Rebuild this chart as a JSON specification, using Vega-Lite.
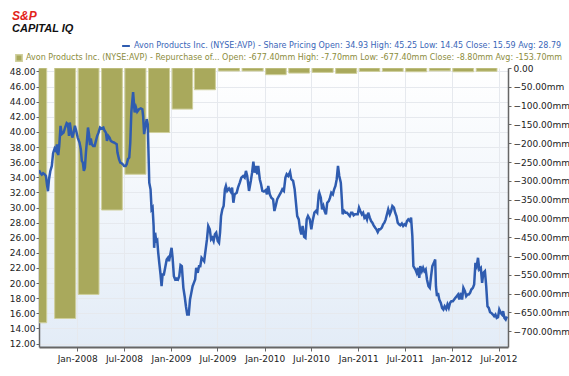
{
  "$schema": "https://vega.github.io/schema/vega-lite/v6.json",
  "width": 469,
  "height": 279,
  "autosize": "none",
  "padding": {"left": 39, "top": 68, "right": 61, "bottom": 29},
  "background": "#ffffff",
  "title": {
    "text": "S&P",
    "subtitle": "CAPITAL IQ",
    "anchor": "start",
    "frame": "group",
    "dx": -27,
    "offset": 6,
    "font": "Liberation Sans",
    "fontSize": 12,
    "fontStyle": "italic",
    "fontWeight": "bold",
    "color": "#e2231a",
    "subtitleFont": "Liberation Sans",
    "subtitleFontSize": 11,
    "subtitleFontStyle": "italic",
    "subtitleFontWeight": "bold",
    "subtitleColor": "#111111",
    "subtitlePadding": 0
  },
  "datasets": {
    "price": [
      {"date":"2007-08-05","price":34.93},{"date":"2007-08-11","price":34.53},{"date":"2007-08-16","price":34.35},{"date":"2007-08-21","price":34.53},{"date":"2007-08-28","price":34.35},{"date":"2007-09-01","price":34.17},{"date":"2007-09-05","price":33.07},{"date":"2007-09-09","price":32.15},{"date":"2007-09-13","price":33.74},{"date":"2007-09-18","price":34.8},{"date":"2007-09-24","price":35.5},{"date":"2007-09-29","price":37.18},{"date":"2007-10-05","price":37.8},{"date":"2007-10-10","price":37.53},{"date":"2007-10-14","price":38.33},{"date":"2007-10-19","price":36.92},{"date":"2007-10-23","price":38.15},{"date":"2007-10-28","price":40.8},{"date":"2007-11-02","price":39.7},{"date":"2007-11-09","price":39.9},{"date":"2007-11-15","price":40.58},{"date":"2007-11-21","price":41.16},{"date":"2007-11-26","price":41.03},{"date":"2007-11-30","price":39.48},{"date":"2007-12-03","price":41.24},{"date":"2007-12-09","price":39.9},{"date":"2007-12-13","price":39.25},{"date":"2007-12-18","price":39.9},{"date":"2007-12-23","price":40.8},{"date":"2007-12-28","price":40.14},
      {"date":"2008-01-03","price":39.25},{"date":"2008-01-10","price":38.6},{"date":"2008-01-15","price":37.71},{"date":"2008-01-19","price":36.16},{"date":"2008-01-23","price":35.94},{"date":"2008-01-27","price":34.84},{"date":"2008-01-31","price":35.27},{"date":"2008-02-04","price":37.27},{"date":"2008-02-08","price":38.81},{"date":"2008-02-12","price":40.58},{"date":"2008-02-16","price":39.7},{"date":"2008-02-20","price":38.24},{"date":"2008-02-23","price":39.12},{"date":"2008-02-27","price":38.38},{"date":"2008-03-03","price":38.15},{"date":"2008-03-09","price":38.15},{"date":"2008-03-14","price":38.81},{"date":"2008-03-19","price":39.48},{"date":"2008-03-24","price":39.9},{"date":"2008-03-30","price":40.58},{"date":"2008-04-05","price":40.45},{"date":"2008-04-12","price":40.58},{"date":"2008-04-17","price":40.14},{"date":"2008-04-22","price":39.9},{"date":"2008-04-26","price":38.81},{"date":"2008-05-01","price":39.48},{"date":"2008-05-06","price":39.25},{"date":"2008-05-11","price":38.81},{"date":"2008-05-17","price":38.68},{"date":"2008-05-23","price":38.6},{"date":"2008-05-28","price":38.5},{"date":"2008-06-03","price":38.38},{"date":"2008-06-06","price":37.27},{"date":"2008-06-12","price":36.39},{"date":"2008-06-17","price":35.94},{"date":"2008-06-22","price":35.86},{"date":"2008-06-27","price":35.72},{"date":"2008-07-02","price":35.5},{"date":"2008-07-08","price":35.5},{"date":"2008-07-12","price":35.72},{"date":"2008-07-17","price":36.39},{"date":"2008-07-22","price":36.6},{"date":"2008-07-26","price":38.6},{"date":"2008-07-30","price":42.57},{"date":"2008-08-06","price":45.25},{"date":"2008-08-12","price":42.57},{"date":"2008-08-17","price":43.23},{"date":"2008-08-22","price":42.66},{"date":"2008-08-29","price":43.0},{"date":"2008-09-05","price":43.1},{"date":"2008-09-11","price":43.0},{"date":"2008-09-14","price":42.13},{"date":"2008-09-18","price":39.7},{"date":"2008-09-22","price":40.58},{"date":"2008-09-28","price":41.69},{"date":"2008-10-02","price":41.03},{"date":"2008-10-04","price":38.6},{"date":"2008-10-08","price":33.29},{"date":"2008-10-13","price":32.41},{"date":"2008-10-17","price":29.76},{"date":"2008-10-21","price":29.97},{"date":"2008-10-25","price":27.55},{"date":"2008-10-27","price":24.67},{"date":"2008-10-31","price":26.66},{"date":"2008-11-04","price":25.56},{"date":"2008-11-08","price":25.7},{"date":"2008-11-12","price":24.0},{"date":"2008-11-16","price":22.68},{"date":"2008-11-21","price":21.14},{"date":"2008-11-25","price":19.59},{"date":"2008-11-29","price":21.14},{"date":"2008-12-04","price":21.14},{"date":"2008-12-09","price":22.02},{"date":"2008-12-15","price":23.13},{"date":"2008-12-20","price":23.35},{"date":"2008-12-24","price":22.9},{"date":"2008-12-29","price":23.79},
      {"date":"2009-01-03","price":24.67},{"date":"2009-01-07","price":23.35},{"date":"2009-01-12","price":20.92},{"date":"2009-01-17","price":20.48},{"date":"2009-01-23","price":20.6},{"date":"2009-01-28","price":20.48},{"date":"2009-02-02","price":20.92},{"date":"2009-02-07","price":22.38},{"date":"2009-02-12","price":22.24},{"date":"2009-02-18","price":19.37},{"date":"2009-02-23","price":18.27},{"date":"2009-02-28","price":16.94},{"date":"2009-03-05","price":15.84},{"date":"2009-03-11","price":15.84},{"date":"2009-03-16","price":17.83},{"date":"2009-03-21","price":18.71},{"date":"2009-03-26","price":19.59},{"date":"2009-03-31","price":20.03},{"date":"2009-04-05","price":20.48},{"date":"2009-04-09","price":22.02},{"date":"2009-04-15","price":21.36},{"date":"2009-04-20","price":22.24},{"date":"2009-04-25","price":22.24},{"date":"2009-04-30","price":23.35},{"date":"2009-05-05","price":23.13},{"date":"2009-05-10","price":22.9},{"date":"2009-05-16","price":24.46},{"date":"2009-05-21","price":25.78},{"date":"2009-05-26","price":27.55},{"date":"2009-06-01","price":27.11},{"date":"2009-06-06","price":25.78},{"date":"2009-06-11","price":26.0},{"date":"2009-06-16","price":25.56},{"date":"2009-06-21","price":26.45},{"date":"2009-06-26","price":26.66},{"date":"2009-07-02","price":25.56},{"date":"2009-07-07","price":25.33},{"date":"2009-07-11","price":26.66},{"date":"2009-07-15","price":28.87},{"date":"2009-07-20","price":29.76},{"date":"2009-07-25","price":30.2},{"date":"2009-07-30","price":32.41},{"date":"2009-08-03","price":32.85},{"date":"2009-08-08","price":32.19},{"date":"2009-08-15","price":32.5},{"date":"2009-08-22","price":32.1},{"date":"2009-08-27","price":32.63},{"date":"2009-09-01","price":30.63},{"date":"2009-09-06","price":31.74},{"date":"2009-09-14","price":31.96},{"date":"2009-09-19","price":32.63},{"date":"2009-09-26","price":33.29},{"date":"2009-10-02","price":33.95},{"date":"2009-10-09","price":34.17},{"date":"2009-10-15","price":33.95},{"date":"2009-10-20","price":34.84},{"date":"2009-10-25","price":34.17},{"date":"2009-11-01","price":32.19},{"date":"2009-11-08","price":33.51},{"date":"2009-11-13","price":34.61},{"date":"2009-11-18","price":36.07},{"date":"2009-11-23","price":34.61},{"date":"2009-11-28","price":35.5},{"date":"2009-12-03","price":34.4},{"date":"2009-12-07","price":35.5},{"date":"2009-12-13","price":33.74},{"date":"2009-12-18","price":33.07},{"date":"2009-12-23","price":32.19},{"date":"2009-12-29","price":32.1},
      {"date":"2010-01-05","price":32.3},{"date":"2010-01-10","price":31.74},{"date":"2010-01-15","price":32.85},{"date":"2010-01-21","price":31.74},{"date":"2010-01-27","price":31.3},{"date":"2010-02-03","price":31.09},{"date":"2010-02-08","price":29.53},{"date":"2010-02-13","price":30.2},{"date":"2010-02-19","price":31.09},{"date":"2010-02-26","price":31.53},{"date":"2010-03-05","price":31.96},{"date":"2010-03-11","price":32.41},{"date":"2010-03-17","price":32.19},{"date":"2010-03-23","price":33.95},{"date":"2010-03-28","price":34.4},{"date":"2010-04-03","price":34.17},{"date":"2010-04-10","price":34.7},{"date":"2010-04-15","price":33.74},{"date":"2010-04-22","price":33.51},{"date":"2010-04-28","price":32.41},{"date":"2010-05-03","price":30.63},{"date":"2010-05-08","price":28.87},{"date":"2010-05-14","price":28.43},{"date":"2010-05-19","price":27.11},{"date":"2010-05-24","price":26.45},{"date":"2010-05-29","price":27.55},{"date":"2010-06-04","price":26.13},{"date":"2010-06-09","price":26.0},{"date":"2010-06-14","price":28.43},{"date":"2010-06-19","price":28.87},{"date":"2010-06-26","price":28.43},{"date":"2010-07-02","price":27.11},{"date":"2010-07-07","price":28.21},{"date":"2010-07-14","price":29.31},{"date":"2010-07-20","price":29.53},{"date":"2010-07-25","price":29.31},{"date":"2010-07-31","price":31.74},{"date":"2010-08-02","price":31.96},{"date":"2010-08-08","price":31.3},{"date":"2010-08-13","price":29.76},{"date":"2010-08-18","price":30.2},{"date":"2010-08-23","price":29.53},{"date":"2010-08-28","price":29.1},{"date":"2010-09-02","price":30.63},{"date":"2010-09-08","price":30.85},{"date":"2010-09-13","price":31.3},{"date":"2010-09-18","price":31.96},{"date":"2010-09-24","price":31.74},{"date":"2010-09-29","price":32.41},{"date":"2010-10-04","price":32.85},{"date":"2010-10-09","price":33.74},{"date":"2010-10-14","price":35.5},{"date":"2010-10-19","price":34.17},{"date":"2010-10-25","price":33.29},{"date":"2010-10-29","price":31.09},{"date":"2010-11-01","price":29.1},{"date":"2010-11-07","price":29.53},{"date":"2010-11-13","price":29.31},{"date":"2010-11-18","price":29.31},{"date":"2010-11-23","price":29.1},{"date":"2010-11-29","price":28.87},{"date":"2010-12-04","price":29.31},{"date":"2010-12-09","price":29.31},{"date":"2010-12-14","price":28.96},{"date":"2010-12-19","price":29.1},{"date":"2010-12-25","price":29.1},{"date":"2010-12-30","price":29.1},
      {"date":"2011-01-04","price":29.97},{"date":"2011-01-09","price":29.53},{"date":"2011-01-15","price":29.1},{"date":"2011-01-20","price":29.31},{"date":"2011-01-25","price":28.65},{"date":"2011-01-30","price":28.87},{"date":"2011-02-04","price":28.43},{"date":"2011-02-09","price":29.31},{"date":"2011-02-15","price":28.65},{"date":"2011-02-20","price":28.21},{"date":"2011-02-25","price":27.99},{"date":"2011-03-02","price":27.64},{"date":"2011-03-08","price":27.33},{"date":"2011-03-13","price":27.11},{"date":"2011-03-18","price":26.75},{"date":"2011-03-23","price":27.11},{"date":"2011-03-28","price":27.11},{"date":"2011-04-03","price":27.33},{"date":"2011-04-08","price":27.77},{"date":"2011-04-13","price":27.99},{"date":"2011-04-18","price":28.43},{"date":"2011-04-23","price":29.1},{"date":"2011-04-28","price":29.76},{"date":"2011-05-04","price":29.1},{"date":"2011-05-09","price":29.53},{"date":"2011-05-14","price":30.2},{"date":"2011-05-20","price":29.97},{"date":"2011-05-25","price":29.31},{"date":"2011-05-30","price":28.87},{"date":"2011-06-04","price":27.99},{"date":"2011-06-09","price":27.77},{"date":"2011-06-14","price":27.64},{"date":"2011-06-20","price":27.88},{"date":"2011-06-25","price":27.55},{"date":"2011-06-30","price":27.77},{"date":"2011-07-05","price":27.64},{"date":"2011-07-10","price":28.21},{"date":"2011-07-15","price":28.43},{"date":"2011-07-21","price":28.21},{"date":"2011-07-26","price":28.65},{"date":"2011-07-31","price":26.22},{"date":"2011-08-04","price":22.24},{"date":"2011-08-12","price":21.8},{"date":"2011-08-17","price":21.36},{"date":"2011-08-22","price":22.02},{"date":"2011-08-27","price":20.7},{"date":"2011-08-31","price":22.24},{"date":"2011-09-06","price":21.58},{"date":"2011-09-11","price":22.02},{"date":"2011-09-16","price":21.58},{"date":"2011-09-21","price":21.8},{"date":"2011-09-26","price":20.48},{"date":"2011-10-02","price":19.59},{"date":"2011-10-07","price":19.37},{"date":"2011-10-12","price":20.92},{"date":"2011-10-17","price":22.24},{"date":"2011-10-23","price":22.68},{"date":"2011-10-28","price":23.13},{"date":"2011-10-31","price":19.59},{"date":"2011-11-04","price":18.27},{"date":"2011-11-08","price":18.71},{"date":"2011-11-13","price":17.83},{"date":"2011-11-19","price":17.38},{"date":"2011-11-24","price":16.72},{"date":"2011-11-29","price":16.5},{"date":"2011-12-04","price":16.94},{"date":"2011-12-10","price":16.6},{"date":"2011-12-15","price":17.17},{"date":"2011-12-20","price":16.72},{"date":"2011-12-25","price":17.38},{"date":"2011-12-30","price":17.6},
      {"date":"2012-01-05","price":17.6},{"date":"2012-01-10","price":17.83},{"date":"2012-01-15","price":18.05},{"date":"2012-01-20","price":18.27},{"date":"2012-01-25","price":18.49},{"date":"2012-01-30","price":17.83},{"date":"2012-02-05","price":18.71},{"date":"2012-02-10","price":17.83},{"date":"2012-02-15","price":19.37},{"date":"2012-02-21","price":18.93},{"date":"2012-02-26","price":18.27},{"date":"2012-03-02","price":18.49},{"date":"2012-03-07","price":18.49},{"date":"2012-03-12","price":18.71},{"date":"2012-03-17","price":19.15},{"date":"2012-03-23","price":19.37},{"date":"2012-03-28","price":19.81},{"date":"2012-04-02","price":22.68},{"date":"2012-04-07","price":22.24},{"date":"2012-04-12","price":23.35},{"date":"2012-04-17","price":21.8},{"date":"2012-04-23","price":22.02},{"date":"2012-04-28","price":20.03},{"date":"2012-05-03","price":21.36},{"date":"2012-05-09","price":21.58},{"date":"2012-05-14","price":19.59},{"date":"2012-05-19","price":16.94},{"date":"2012-05-24","price":16.72},{"date":"2012-05-29","price":16.15},{"date":"2012-06-03","price":16.05},{"date":"2012-06-09","price":15.84},{"date":"2012-06-14","price":15.62},{"date":"2012-06-19","price":15.84},{"date":"2012-06-24","price":15.4},{"date":"2012-06-29","price":15.5},{"date":"2012-07-04","price":16.5},{"date":"2012-07-10","price":16.05},{"date":"2012-07-15","price":15.84},{"date":"2012-07-19","price":16.28},{"date":"2012-07-24","price":15.4},{"date":"2012-07-29","price":15.18},{"date":"2012-08-03","price":15.59}
    ],
    "buyback": [
      {"quarter":"Q3 2007","start":"2007-07-05","end":"2007-09-04","value":-677.4},
      {"quarter":"Q4 2007","start":"2007-10-05","end":"2007-12-26","value":-666.0},
      {"quarter":"Q1 2008","start":"2008-01-05","end":"2008-03-26","value":-602.0},
      {"quarter":"Q2 2008","start":"2008-04-05","end":"2008-06-25","value":-377.6},
      {"quarter":"Q3 2008","start":"2008-07-05","end":"2008-09-25","value":-282.5},
      {"quarter":"Q4 2008","start":"2008-10-05","end":"2008-12-26","value":-171.6},
      {"quarter":"Q1 2009","start":"2009-01-05","end":"2009-03-26","value":-109.2},
      {"quarter":"Q2 2009","start":"2009-04-02","end":"2009-06-23","value":-57.8},
      {"quarter":"Q3 2009","start":"2009-07-05","end":"2009-09-25","value":-8.0},
      {"quarter":"Q4 2009","start":"2009-10-05","end":"2009-12-26","value":-8.0},
      {"quarter":"Q1 2010","start":"2010-01-05","end":"2010-03-26","value":-17.8},
      {"quarter":"Q2 2010","start":"2010-04-05","end":"2010-06-25","value":-13.5},
      {"quarter":"Q3 2010","start":"2010-07-05","end":"2010-09-25","value":-11.7},
      {"quarter":"Q4 2010","start":"2010-10-05","end":"2010-12-26","value":-14.4},
      {"quarter":"Q1 2011","start":"2011-01-05","end":"2011-03-26","value":-9.0},
      {"quarter":"Q2 2011","start":"2011-04-05","end":"2011-06-25","value":-9.0},
      {"quarter":"Q3 2011","start":"2011-07-05","end":"2011-09-25","value":-10.0},
      {"quarter":"Q4 2011","start":"2011-10-05","end":"2011-12-26","value":-7.7},
      {"quarter":"Q1 2012","start":"2012-01-05","end":"2012-03-26","value":-10.0},
      {"quarter":"Q2 2012","start":"2012-04-05","end":"2012-06-25","value":-8.8}
    ]
  },
  "layer": [
    {
      "data": {"name": "buyback"},
      "mark": {"type": "bar", "clip": true, "fill": "#a9a95c", "stroke": "#cfcf9c", "strokeWidth": 1},
      "encoding": {
        "x": {"field": "start", "type": "temporal"},
        "x2": {"field": "end"},
        "y": {
          "field": "value", "type": "quantitative",
          "scale": {"domain": [-741.8, 0], "nice": false, "zero": false},
          "axis": {
            "orient": "right", "title": null, "grid": false,
            "values": [0, -50, -100, -150, -200, -250, -300, -350, -400, -450, -500, -550, -600, -650, -700],
            "labelExpr": "datum.value == 0 ? '0.00' : format(datum.value, '.2f') + 'mm'",
            "domainColor": "#666666", "domainWidth": 1.5, "tickColor": "#666666", "tickSize": 3,
            "labelPadding": 2, "labelFont": "DejaVu Sans", "labelFontSize": 9, "labelColor": "#222222"
          }
        },
        "y2": {"datum": 0},
        "color": {
          "datum": "Avon Products Inc. (NYSE:AVP) - Repurchase of...  Open: -677.40mm  High: -7.70mm  Low: -677.40mm  Close: -8.80mm  Avg: -153.70mm",
          "type": "nominal",
          "scale": {"range": ["#a9a95c"]},
          "legend": {
            "orient": "none", "legendX": -24, "legendY": -14, "title": null,
            "symbolType": "square", "symbolSize": 40, "labelColor": "#8c8c3c",
            "labelFont": "DejaVu Sans", "labelFontSize": 8, "labelLimit": 700, "labelOffset": 3
          }
        }
      }
    },
    {
      "data": {"name": "price"},
      "mark": {"type": "line", "color": "#2f5cb0", "strokeWidth": 2.5, "clip": true},
      "encoding": {
        "x": {
          "field": "date", "type": "temporal",
          "scale": {"type": "utc", "domain": [{"year": 2007, "month": 8, "date": 5, "utc": true}, {"year": 2012, "month": 8, "date": 7, "utc": true}]},
          "axis": {
            "title": null, "format": "%b-%Y", "tickCount": {"interval": "month", "step": 6},
            "grid": true, "gridColor": "#e6e9ee", "gridWidth": 1,
            "domainColor": "#666666", "domainWidth": 2, "tickColor": "#666666", "tickSize": 4,
            "labelFont": "DejaVu Sans", "labelFontSize": 9, "labelColor": "#222222", "labelPadding": 3
          }
        },
        "y": {
          "field": "price", "type": "quantitative",
          "scale": {"domain": [11.55, 48.45], "nice": false, "zero": false},
          "axis": {
            "orient": "left", "title": null,
            "values": [12, 14, 16, 18, 20, 22, 24, 26, 28, 30, 32, 34, 36, 38, 40, 42, 44, 46, 48],
            "format": ".2f", "grid": true, "gridColor": "#e6e9ee",
            "domainColor": "#666666", "domainWidth": 1.5, "tickColor": "#666666", "tickSize": 3,
            "labelPadding": 1, "labelFont": "DejaVu Sans", "labelFontSize": 9, "labelColor": "#222222"
          }
        },
        "color": {
          "datum": "Avon Products Inc. (NYSE:AVP) - Share Pricing  Open: 34.93  High: 45.25  Low: 14.45  Close: 15.59  Avg: 28.79",
          "type": "nominal",
          "scale": {"range": ["#2f5cb0"]},
          "legend": {
            "orient": "none", "legendX": 82, "legendY": -27, "title": null,
            "symbolType": "stroke", "symbolStrokeWidth": 2, "symbolSize": 60, "labelColor": "#3a66b8",
            "labelFont": "DejaVu Sans", "labelFontSize": 8, "labelLimit": 700, "labelOffset": 3
          }
        }
      }
    }
  ],
  "resolve": {"scale": {"y": "independent", "color": "independent"}, "legend": {"color": "independent"}},
  "config": {
    "view": {
      "stroke": null,
      "fill": {"gradient": "linear", "x1": 0, "y1": 0, "x2": 0, "y2": 1, "stops": [{"offset": 0, "color": "#ffffff"}, {"offset": 1, "color": "#e3ecf7"}]}
    }
  }
}
